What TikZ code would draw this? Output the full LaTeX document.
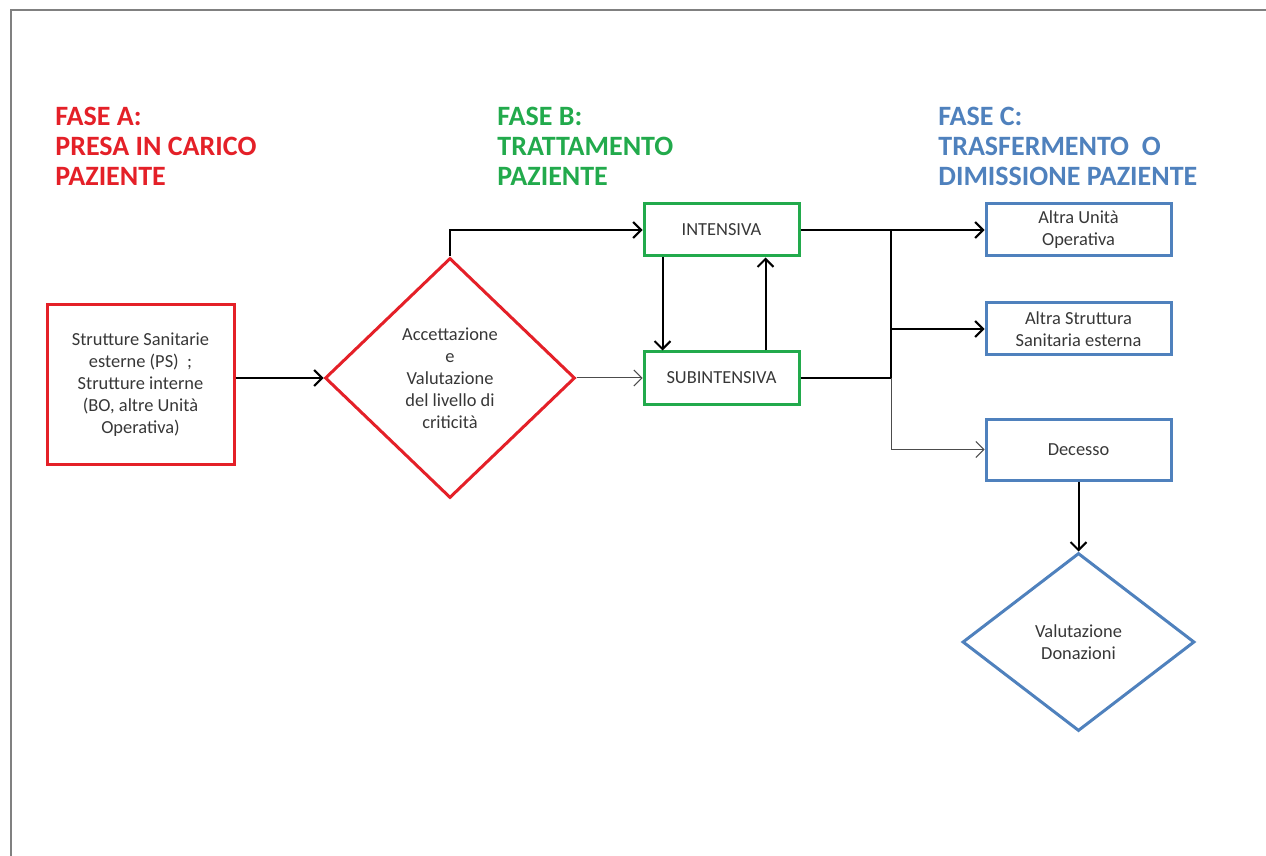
\documentclass[tikz,border=0pt]{standalone}
\usepackage{fontspec}
\setmainfont{Carlito}
\usetikzlibrary{shapes.geometric,arrows.meta,positioning}
\definecolor{faseA}{RGB}{228,32,40}
\definecolor{faseB}{RGB}{34,170,76}
\definecolor{faseC}{RGB}{79,129,189}
\definecolor{testo}{RGB}{55,55,55}

\begin{document}
\begin{tikzpicture}[x=0.5pt,y=-0.5pt,
		titolo/.style={anchor=north west,align=left,inner sep=0pt,font=\fontsize{14}{15}\selectfont\bfseries},
		blocco/.style={draw,line width=1.5pt,align=center,text=testo,inner sep=0pt,font=\fontsize{9.2}{11}\selectfont},
		rombo/.style={diamond,draw,line width=1.5pt,align=center,text=testo,inner sep=0pt,font=\fontsize{9.2}{11}\selectfont},
		freccia/.style={-{Straight Barb[length=4pt,width=8pt]},line width=1pt},
		sottile/.style={-{Straight Barb[length=4pt,width=8pt]},line width=0.5pt,draw=black!70}]
			\useasboundingbox (0,0) rectangle (1266,856);
			\draw[gray,line width=1pt] (1266,10) -- (11,10) -- (11,856);
			% titoli delle fasi
			\node[titolo,text=faseA] (titA) at (55,107) {FASE A:\\PRESA IN CARICO\\PAZIENTE};
			\node[titolo,text=faseB] (titB) at (497,107) {FASE B:\\TRATTAMENTO\\PAZIENTE};
			\node[titolo,text=faseC] (titC) at (938,107) {FASE C:\\TRASFERMENTO\ \ O\\DIMISSIONE PAZIENTE};
			% fase A
			\node[blocco,draw=faseA,minimum width=93.5pt,minimum height=79.5pt] (sorg) at (140.5,384.5) {Strutture Sanitarie\\esterne (PS)\ \ ;\\Strutture interne\\(BO, altre Unità\\Operativa)};
			\node[rombo,draw=faseA,minimum width=125pt,minimum height=120pt] (acc) at (450,378) {Accettazione\\e\\Valutazione\\del livello di\\criticità};
			% fase B
			\node[blocco,draw=faseB,minimum width=77.5pt,minimum height=26pt] (int) at (721.5,230) {INTENSIVA};
			\node[blocco,draw=faseB,minimum width=77.5pt,minimum height=26pt] (sub) at (721.5,378) {SUBINTENSIVA};
			% fase C
			\node[blocco,draw=faseC,minimum width=92.5pt,minimum height=26pt] (altraUO) at (1078.5,230) {Altra Unità\\Operativa};
			\node[blocco,draw=faseC,minimum width=92.5pt,minimum height=26pt] (altraSS) at (1078.5,329) {Altra Struttura\\Sanitaria esterna};
			\node[blocco,draw=faseC,minimum width=92.5pt,minimum height=30.5pt] (dec) at (1078.5,449.5) {Decesso};
			\node[rombo,draw=faseC,minimum width=116pt,minimum height=89pt] (don) at (1078.5,642) {Valutazione\\Donazioni};
			\coordinate (giunto) at (891,378);
			% collegamenti
			\draw[freccia] (sorg.east |- acc.west) -- (acc.west);
			\draw[freccia] (acc.north) |- (int.west);
			\draw[sottile] (acc.east) -- (sub.west);
			\draw[freccia] ([xshift=10pt]int.south west) -- ([xshift=10pt]sub.north west);
			\draw[freccia] ([xshift=-17.5pt]sub.north east) -- ([xshift=-17.5pt]int.south east);
			\draw[freccia] (int.east) -- (altraUO.west);
			\draw[line width=1pt] (sub.east) -- (giunto);
			\draw[line width=1pt] (giunto) -- (giunto |- int.east);
			\draw[freccia] (giunto |- altraSS.west) -- (altraSS.west);
			\draw[sottile] (giunto) |- (dec.west);
			\draw[freccia] (dec.south) -- (don.north);
		\end{tikzpicture}
\end{document}
